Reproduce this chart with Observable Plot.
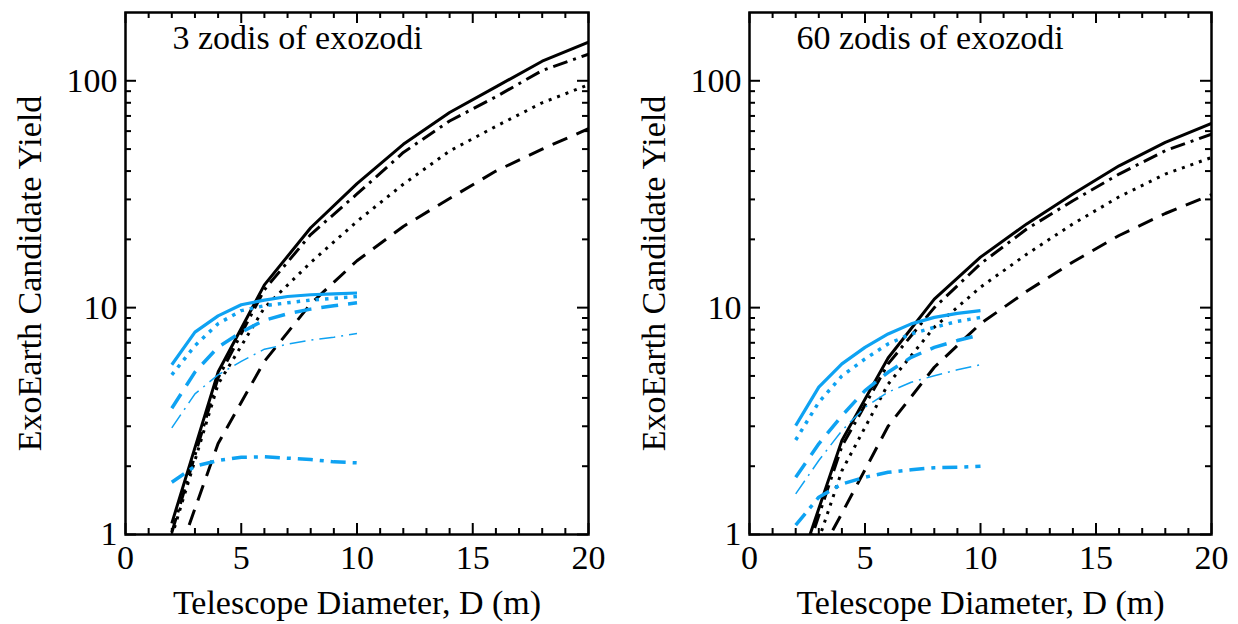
<!DOCTYPE html>
<html><head><meta charset="utf-8">
<script src="https://cdn.jsdelivr.net/npm/d3@7"></script>
<script src="https://cdn.jsdelivr.net/npm/@observablehq/plot@0.6"></script>
<style>
body{margin:0;background:#fff;}
#row{display:flex;width:1238px;height:624px;}
svg, svg text{font-family:"Liberation Serif","Times New Roman","Times","Nimbus Roman","Nimbus Roman No9 L","FreeSerif","Tinos","Noto Serif","DejaVu Serif","Georgia",serif !important;}
</style></head><body><div id="row"></div>
<script>
// ---- data ----
const diamBlack = [2, 4, 6, 8, 10, 12, 14, 16, 18, 20];
const diamBlue = [2, 3, 4, 5, 6, 7, 8, 9, 10];

// 3 zodis of exozodi
const blackSolid3   = [1.12, 5.2, 12.6, 22.5, 35.2, 52.5, 72.5, 94, 122, 148];
const blackDashDot3 = [1.02, 4.9, 12.0, 21, 31.7, 48.3, 66.5, 85, 111, 131];
const blackDotted3  = [0.98, 4.6, 10.0, 15.8, 24, 35, 49, 63, 80, 96];
const blackDashed3  = [0.67, 2.52, 5.8, 10.4, 16.1, 22.8, 30.3, 40, 50, 61.5];
const blueSolid3    = [5.6, 7.8, 9.2, 10.3, 10.8, 11.2, 11.4, 11.5, 11.6];
const blueDotted3   = [5.05, 6.8, 8.5, 9.7, 10.2, 10.5, 10.8, 11.0, 11.2];
const blueDashed3   = [3.6, 5.2, 6.7, 7.8, 8.8, 9.4, 9.85, 10.2, 10.5];
const blueThinDD3   = [2.95, 4.17, 5.05, 5.8, 6.56, 6.9, 7.2, 7.4, 7.7];
const blueThickDD3  = [1.7, 2.0, 2.12, 2.19, 2.2, 2.17, 2.14, 2.09, 2.07];

// 60 zodis of exozodi
const blackSolid60   = [0.65, 2.6, 6.0, 10.9, 16.7, 23.4, 31.7, 42.2, 53.5, 64.9];
const blackDashDot60 = [0.6, 2.45, 5.65, 10.0, 15.6, 22.2, 29.6, 38.8, 49.2, 58.2];
const blackDotted60  = [0.475, 1.91, 4.6, 8.2, 12.3, 17.2, 23.4, 30.8, 38.8, 45.9];
const blackDashed60  = [0.52, 1.24, 3.0, 5.46, 8.5, 11.8, 15.9, 20.8, 26.0, 31.5];
const blueSolid60    = [3.02, 4.46, 5.65, 6.68, 7.66, 8.48, 9.06, 9.44, 9.7];
const blueDotted60   = [2.61, 3.83, 5.0, 5.94, 6.92, 7.66, 8.19, 8.7, 9.05];
const blueDashed60   = [1.79, 2.51, 3.34, 4.31, 5.19, 6.04, 6.68, 7.16, 7.6];
const blueThinDD60   = [1.51, 2.12, 2.87, 3.64, 4.24, 4.69, 5.01, 5.32, 5.6];
const blueThickDD60  = [1.1, 1.46, 1.67, 1.79, 1.88, 1.93, 1.97, 1.98, 2.0];

const titles = ["3 zodis of exozodi", "60 zodis of exozodi"];
const xLabel = "Telescope Diameter, D (m)";
const yLabel = "ExoEarth Candidate Yield";
const xMajor = [0, 5, 10, 15, 20];
const xMinor = [1,2,3,4,6,7,8,9,11,12,13,14,16,17,18,19];
const yMajor = [1, 10, 100];
const yMinor = [2,3,4,5,6,7,8,9,20,30,40,50,60,70,80,90];

const FONT = "Liberation Serif, Times New Roman, DejaVu Serif, serif";
const BLUE = "#0ea2f2";
const styles = {
  solid:   {stroke: "black", strokeWidth: 3, dash: null},
  dashdot: {stroke: "black", strokeWidth: 3, dash: "15,6,3,6"},
  dotted:  {stroke: "black", strokeWidth: 3, dash: "3,6"},
  dashed:  {stroke: "black", strokeWidth: 3, dash: "16,10"},
  bSolid:  {stroke: BLUE, strokeWidth: 3.2, dash: null},
  bDotted: {stroke: BLUE, strokeWidth: 3.5, dash: "3.5,6"},
  bDashed: {stroke: BLUE, strokeWidth: 3.5, dash: "17,10"},
  bThin:   {stroke: BLUE, strokeWidth: 1.5, dash: "16,6,2,6"},
  bThick:  {stroke: BLUE, strokeWidth: 3.5, dash: "15,7,4,7"}
};

function series(xs, ys, st) {
  const rows = xs.map((D, i) => ({D, v: ys[i]}));
  return Plot.line(rows, {x: "D", y: "v", stroke: st.stroke, strokeWidth: st.strokeWidth,
    strokeDasharray: st.dash, strokeLinecap: "butt", strokeLinejoin: "round", clip: true});
}

function panel(title, black, blue, ml, mr) {
  const W = 619, H = 624, mt = 12, mb = 90;
  const fw = W - ml - mr, fh = H - mt - mb;
  const marks = [];
  black.forEach(([ys, st]) => marks.push(series(diamBlack, ys, styles[st])));
  blue.forEach(([ys, st]) => marks.push(series(diamBlue, ys, styles[st])));
  // inward ticks on all four sides
  marks.push(Plot.tickX(xMajor, {x: d => d, insetTop: fh - 11, stroke: "black", strokeWidth: 2}));
  marks.push(Plot.tickX(xMinor, {x: d => d, insetTop: fh - 6, stroke: "black", strokeWidth: 2}));
  marks.push(Plot.tickX(xMajor, {x: d => d, insetBottom: fh - 11, stroke: "black", strokeWidth: 2}));
  marks.push(Plot.tickX(xMinor, {x: d => d, insetBottom: fh - 6, stroke: "black", strokeWidth: 2}));
  marks.push(Plot.tickY(yMajor, {y: d => d, insetRight: fw - 11, stroke: "black", strokeWidth: 2}));
  marks.push(Plot.tickY(yMinor, {y: d => d, insetRight: fw - 6, stroke: "black", strokeWidth: 2}));
  marks.push(Plot.tickY(yMajor, {y: d => d, insetLeft: fw - 11, stroke: "black", strokeWidth: 2}));
  marks.push(Plot.tickY(yMinor, {y: d => d, insetLeft: fw - 6, stroke: "black", strokeWidth: 2}));
  marks.push(Plot.frame({stroke: "black", strokeWidth: 2.5}));
  marks.push(Plot.axisX({ticks: xMajor, tickSize: 0, tickPadding: 10, label: null, tickFormat: d => String(d), fontFamily: FONT, fontSize: 34}));
  marks.push(Plot.axisY({ticks: yMajor, tickSize: 0, tickPadding: 8, label: null, tickFormat: d => String(d), fontFamily: FONT, fontSize: 34}));
  marks.push(Plot.text([title], {frameAnchor: "top-left", dx: 47, dy: 12, textAnchor: "start", lineAnchor: "top", fill: "black", fontFamily: FONT, fontSize: 34}));
  marks.push(Plot.text([xLabel], {frameAnchor: "bottom", dy: 79, lineAnchor: "bottom", fill: "black", fontFamily: FONT, fontSize: 34}));
  marks.push(Plot.text([yLabel], {frameAnchor: "left", dx: -95, rotate: -90, textAnchor: "middle", lineAnchor: "middle", fill: "black", fontFamily: FONT, fontSize: 34}));
  return Plot.plot({
    width: W, height: H, marginLeft: ml, marginRight: mr, marginTop: mt, marginBottom: mb,
    style: {fontFamily: FONT, fontSize: "34px", color: "black", background: "white", overflow: "visible"},
    x: {domain: [0, 20], axis: null},
    y: {type: "log", domain: [1, 200], axis: null},
    marks
  });
}

const row = document.getElementById("row");
row.appendChild(panel(titles[0],
  [[blackSolid3, "solid"], [blackDashDot3, "dashdot"], [blackDotted3, "dotted"], [blackDashed3, "dashed"]],
  [[blueSolid3, "bSolid"], [blueDotted3, "bDotted"], [blueDashed3, "bDashed"], [blueThinDD3, "bThin"], [blueThickDD3, "bThick"]],
  125, 31));
row.appendChild(panel(titles[1],
  [[blackSolid60, "solid"], [blackDashDot60, "dashdot"], [blackDotted60, "dotted"], [blackDashed60, "dashed"]],
  [[blueSolid60, "bSolid"], [blueDotted60, "bDotted"], [blueDashed60, "bDashed"], [blueThinDD60, "bThin"], [blueThickDD60, "bThick"]],
  130, 27));
</script></body></html>
